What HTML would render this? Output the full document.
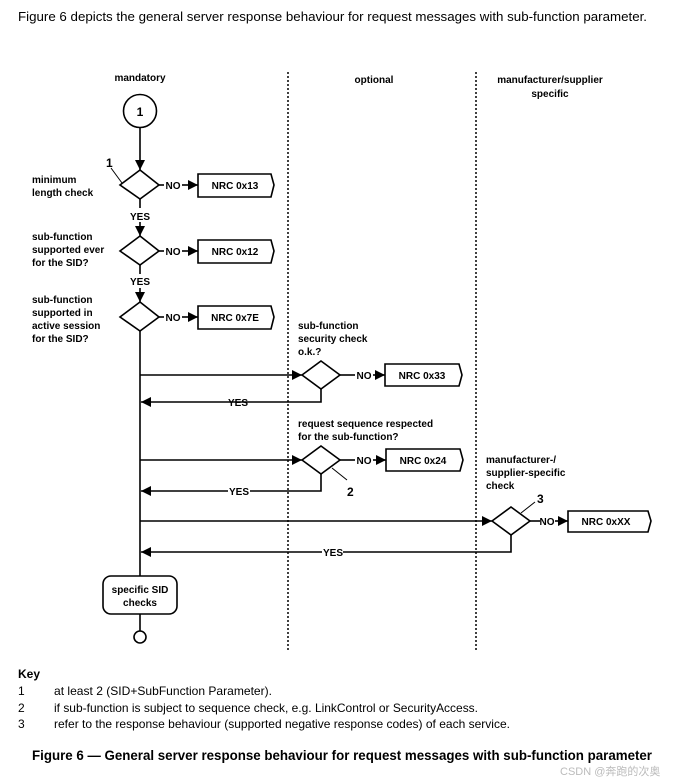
<!DOCTYPE html>
<html><head><meta charset="utf-8"><style>
body{margin:0;background:#fff;}
svg{display:block;font-family:"Liberation Sans",Arial,sans-serif;}
.b{font-weight:bold;font-size:10px;fill:#000;}
</style></head><body>
<svg width="676" height="784" viewBox="0 0 676 784" xmlns="http://www.w3.org/2000/svg">
<defs>
<marker id="a" viewBox="0 0 10 10" refX="10" refY="5" markerWidth="10" markerHeight="10" markerUnits="userSpaceOnUse" orient="auto"><path d="M0,0L10,5L0,10z" fill="#000"/></marker>
</defs>
<text x="18" y="21" font-size="13" textLength="629" lengthAdjust="spacingAndGlyphs">Figure 6 depicts the general server response behaviour for request messages with sub-function parameter.</text>

<g class="b">
<text x="140" y="81" text-anchor="middle">mandatory</text>
<text x="374" y="83" text-anchor="middle">optional</text>
<text x="550" y="83" text-anchor="middle">manufacturer/supplier</text>
<text x="550" y="97" text-anchor="middle">specific</text>
</g>
<g stroke="#000" stroke-width="1.5" stroke-dasharray="2,2">
<line x1="288" y1="72" x2="288" y2="650"/>
<line x1="476" y1="72" x2="476" y2="650"/>
</g>

<g stroke="#000" stroke-width="1.6" fill="none">
<circle cx="140" cy="111" r="16.5" fill="#fff"/>
<line x1="140" y1="128" x2="140" y2="170" marker-end="url(#a)"/>
<polygon points="140,170 159,185 140,199 120,185" fill="#fff"/>
<line x1="140" y1="199" x2="140" y2="208"/>
<line x1="140" y1="222" x2="140" y2="236" marker-end="url(#a)"/>
<polygon points="140,236 159,251 140,265 120,251" fill="#fff"/>
<line x1="140" y1="265" x2="140" y2="274"/>
<line x1="140" y1="288" x2="140" y2="302" marker-end="url(#a)"/>
<polygon points="140,302 159,317 140,331 120,317" fill="#fff"/>
<line x1="140" y1="331" x2="140" y2="576"/>
<rect x="103" y="576" width="74" height="38" rx="8" fill="#fff"/>
<line x1="140" y1="614" x2="140" y2="631"/>
<circle cx="140" cy="637" r="6" fill="#fff"/>
<!-- NO branches -->
<line x1="159" y1="185" x2="164" y2="185"/><line x1="182" y1="185" x2="198" y2="185" marker-end="url(#a)"/>
<line x1="159" y1="251" x2="164" y2="251"/><line x1="182" y1="251" x2="198" y2="251" marker-end="url(#a)"/>
<line x1="159" y1="317" x2="164" y2="317"/><line x1="182" y1="317" x2="198" y2="317" marker-end="url(#a)"/>
<path d="M198,174H271L274,185L271,197H198Z" fill="#fff"/>
<path d="M198,240H271L274,251L271,263H198Z" fill="#fff"/>
<path d="M198,306H271L274,317L271,329H198Z" fill="#fff"/>
<!-- optional -->
<line x1="140" y1="375" x2="302" y2="375" marker-end="url(#a)"/>
<polygon points="321,361 340,375 321,389 302,375" fill="#fff"/>
<line x1="340" y1="375" x2="355" y2="375"/><line x1="373" y1="375" x2="385" y2="375" marker-end="url(#a)"/>
<path d="M385,364H459L462,375L459,386H385Z" fill="#fff"/>
<path d="M321,389V402H227M249,402H321"/>
<line x1="227" y1="402" x2="141" y2="402" marker-end="url(#a)"/>
<line x1="140" y1="460" x2="302" y2="460" marker-end="url(#a)"/>
<polygon points="321,446 340,460 321,474 302,460" fill="#fff"/>
<line x1="340" y1="460" x2="355" y2="460"/><line x1="373" y1="460" x2="386" y2="460" marker-end="url(#a)"/>
<path d="M386,449H460L463,460L460,471H386Z" fill="#fff"/>
<path d="M321,474V491H250"/>
<line x1="228" y1="491" x2="141" y2="491" marker-end="url(#a)"/>
<line x1="332" y1="468" x2="347" y2="480" stroke-width="1"/>
<!-- manufacturer -->
<line x1="140" y1="521" x2="492" y2="521" marker-end="url(#a)"/>
<polygon points="511,507 530,521 511,535 492,521" fill="#fff"/>
<line x1="530" y1="521" x2="540" y2="521"/><line x1="555" y1="521" x2="568" y2="521" marker-end="url(#a)"/>
<path d="M568,511H648L651,521L648,532H568Z" fill="#fff"/>
<path d="M511,535V552H343"/>
<line x1="322" y1="552" x2="141" y2="552" marker-end="url(#a)"/>
<line x1="521" y1="513" x2="535" y2="502" stroke-width="1"/>
<line x1="111" y1="168" x2="122" y2="183" stroke-width="1"/>
</g>

<g class="b">
<text x="140" y="116" text-anchor="middle" font-size="12">1</text>
<text x="106" y="167" font-size="12">1</text>
<text x="32" y="183">minimum</text>
<text x="32" y="196">length  check</text>
<text x="140" y="220" text-anchor="middle">YES</text>
<text x="32" y="240">sub-function</text>
<text x="32" y="253">supported ever</text>
<text x="32" y="266">for the SID?</text>
<text x="140" y="285" text-anchor="middle">YES</text>
<text x="32" y="303">sub-function</text>
<text x="32" y="316">supported in</text>
<text x="32" y="329">active session</text>
<text x="32" y="342">for the SID?</text>
<text x="173" y="189" text-anchor="middle">NO</text>
<text x="173" y="255" text-anchor="middle">NO</text>
<text x="173" y="321" text-anchor="middle">NO</text>
<text x="235" y="189" text-anchor="middle">NRC 0x13</text>
<text x="235" y="255" text-anchor="middle">NRC 0x12</text>
<text x="235" y="321" text-anchor="middle">NRC 0x7E</text>
<text x="298" y="329">sub-function</text>
<text x="298" y="342">security check</text>
<text x="298" y="355">o.k.?</text>
<text x="364" y="379" text-anchor="middle">NO</text>
<text x="422" y="379" text-anchor="middle">NRC 0x33</text>
<text x="238" y="406" text-anchor="middle">YES</text>
<text x="298" y="427">request sequence respected</text>
<text x="298" y="440">for the sub-function?</text>
<text x="364" y="464" text-anchor="middle">NO</text>
<text x="423" y="464" text-anchor="middle">NRC 0x24</text>
<text x="239" y="495" text-anchor="middle">YES</text>
<text x="347" y="496" font-size="12">2</text>
<text x="486" y="463">manufacturer-/</text>
<text x="486" y="476">supplier-specific</text>
<text x="486" y="489">check</text>
<text x="537" y="503" font-size="12">3</text>
<text x="547" y="525" text-anchor="middle">NO</text>
<text x="606" y="525" text-anchor="middle">NRC 0xXX</text>
<text x="333" y="556" text-anchor="middle">YES</text>
<text x="140" y="593" text-anchor="middle">specific SID</text>
<text x="140" y="606" text-anchor="middle">checks</text>
</g>

<text x="18" y="678" font-size="12" font-weight="bold">Key</text>
<g font-size="12">
<text x="18" y="695">1</text><text x="54" y="695" textLength="218" lengthAdjust="spacingAndGlyphs">at least 2 (SID+SubFunction Parameter).</text>
<text x="18" y="712">2</text><text x="54" y="712" textLength="424" lengthAdjust="spacingAndGlyphs">if sub-function is subject to sequence check, e.g. LinkControl or SecurityAccess.</text>
<text x="18" y="728">3</text><text x="54" y="728" textLength="456" lengthAdjust="spacingAndGlyphs">refer to the response behaviour (supported negative response codes) of each service.</text>
</g>
<text x="32" y="760" font-size="13.5" font-weight="bold" textLength="620" lengthAdjust="spacingAndGlyphs">Figure 6 — General server response behaviour for request messages with sub-function parameter</text>
<text x="560" y="775" font-size="11" fill="#bbb" font-family="Liberation Sans, Noto Sans CJK SC, sans-serif">CSDN @奔跑的次奥</text>
</svg>
</body></html>
